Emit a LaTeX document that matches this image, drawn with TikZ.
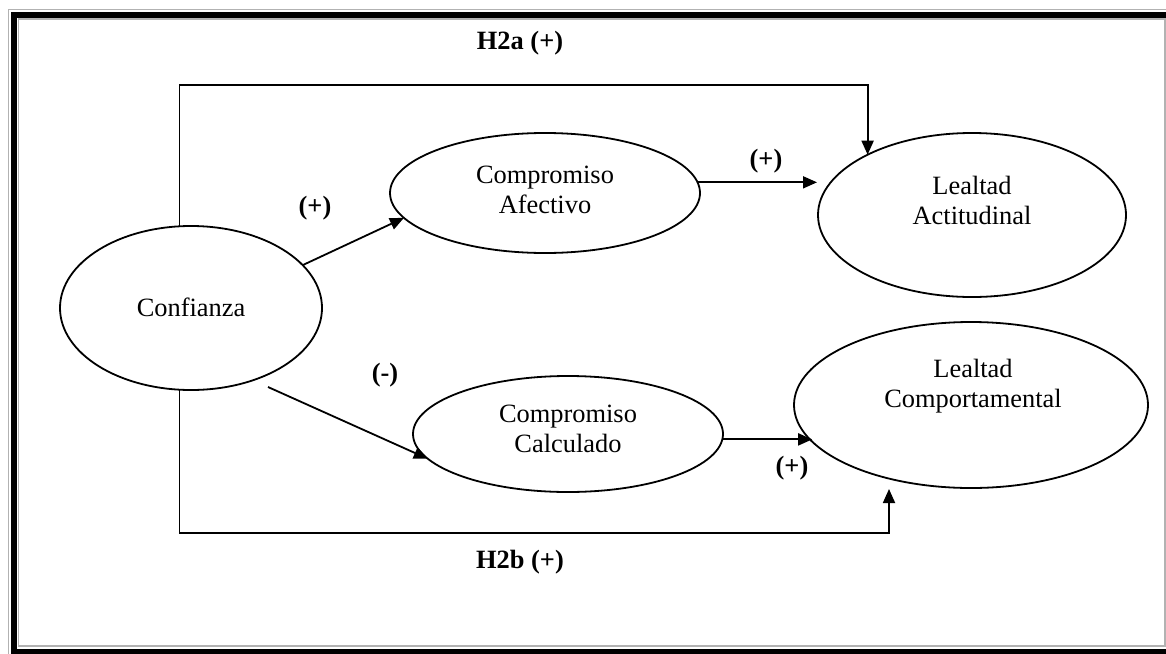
\documentclass[tikz,border=0pt]{standalone}
\usepackage{fontspec}
\setmainfont{Liberation Serif}
\usetikzlibrary{arrows.meta,shapes.geometric}
\begin{document}
\begin{tikzpicture}[x=0.5pt,y=-0.5pt,
 ell/.style={draw, ellipse, line width=0.9pt, inner sep=0pt, outer sep=0pt},
 txt/.style={align=center, font=\fontsize{13.2}{15}\selectfont, inner sep=0pt},
 lab/.style={font=\fontsize{13.2}{15}\selectfont\bfseries, inner sep=0pt},
 arr/.style={line width=0.9pt, -{Triangle[length=7pt,width=6pt]}}]
\useasboundingbox (0,0) rectangle (1166,653);
\begin{scope}
\clip (0,0) rectangle (1166,653);
\draw[gray!60, line width=0.5pt] (8.5,9.5) rectangle (1178,660);
\draw[black, line width=3pt] (14,14.5) rectangle (1170,651.5);
\draw[gray!60, line width=0.6pt] (18.5,19) rectangle (1165,646);
\end{scope}
% ellipses
\node[ell, minimum width=131pt, minimum height=82pt] (conf) at (191,308) {};
\node[ell, minimum width=155pt, minimum height=60pt] (afe) at (545,193) {};
\node[ell, minimum width=154pt, minimum height=82pt] (lat) at (972,215) {};
\node[ell, minimum width=155pt, minimum height=58pt] (cal) at (568,434) {};
\node[ell, minimum width=177pt, minimum height=83pt] (com) at (971,405) {};
% texts
\node[txt] (tconf) at (191,307) {Confianza};
\node[txt] (tafe) at (545,190) {Compromiso\\Afectivo};
\node[txt] (tlat) at (972,200) {Lealtad\\Actitudinal};
\node[txt] (tcal) at (568,429) {Compromiso\\Calculado};
\node[txt] (tcom) at (973,386) {Lealtad\\Comportamental};
% connectors
\draw[arr] (conf.21) -- (afe.190);
\coordinate (s2) at (268,387);
\draw[arr] (s2) -- (cal.190);
\coordinate (e1) at (817,180);
\draw[arr] (afe.4.8) -- (afe.4.8 -| e1);
\draw[arr] (cal.-2.6) -- (cal.-2.6 -| com.193);
\coordinate (topy) at (0,85);
\draw[arr] (conf.98.3) |- (topy -| lat.150.9) -- (lat.150.9);
\coordinate (boty) at (0,533);
\coordinate (h2bend) at (889,489);
\draw[arr] (conf.-98.3) |- (boty -| h2bend) -- (h2bend);
% labels
\node[lab] (lh2a) at (520,43) {H2a (+)};
\node[lab] (lh2b) at (520,562) {H2b (+)};
\node[lab] (l1) at (315,208) {(+)};
\node[lab] (l2) at (766,161) {(+)};
\node[lab] (l3) at (385,375) {(-)};
\node[lab] (l4) at (792,468) {(+)};
\end{tikzpicture}
\end{document}
